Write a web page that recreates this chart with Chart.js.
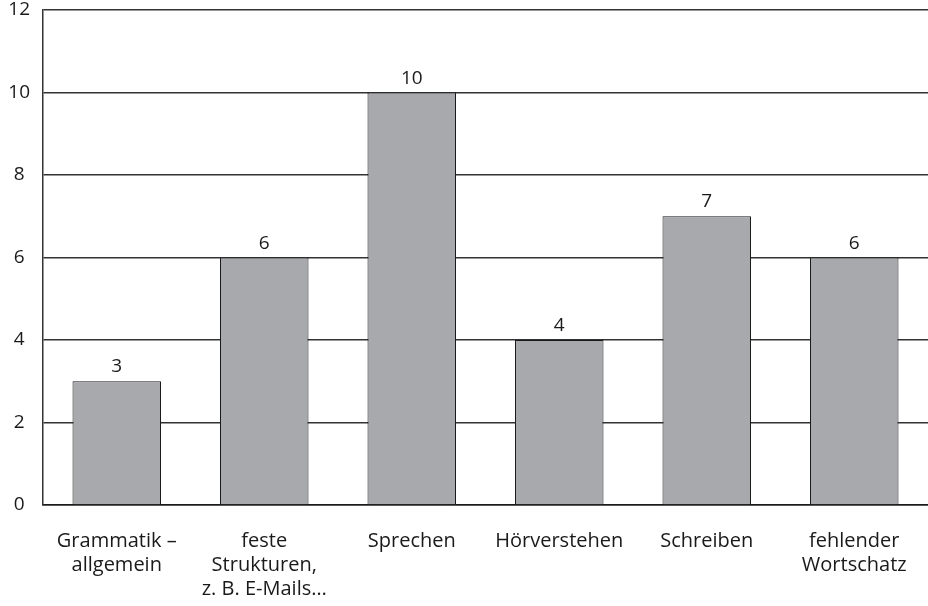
<!DOCTYPE html>
<html>
<head>
<meta charset="utf-8">
<script src="https://cdn.jsdelivr.net/npm/chart.js@4"></script>
<style>
  html, body { margin: 0; padding: 0; background: #fff; }
  #wrap { width: 928px; height: 606px; }
</style>
</head>
<body>
<div id="wrap"><canvas id="chart"></canvas></div>
<script>
const categories = [
    ['Grammatik \u2013', 'allgemein'],
    ['feste', 'Strukturen,', 'z. B. E-Mails\u2026'],
    'Sprechen',
    'H\u00f6rverstehen',
    'Schreiben',
    ['fehlender', 'Wortschatz']
];
const values = [3, 6, 10, 4, 7, 6];
const yMax = 12;
const yStep = 2;

const fontFamily = '"Open Sans", "DejaVu Sans", sans-serif';

// zahlen über den balken
const valueLabels = {
    id: 'valueLabels',
    afterDatasetsDraw(chart) {
        const ctx = chart.ctx;
        const meta = chart.getDatasetMeta(0);
        ctx.save();
        ctx.fillStyle = '#1a1a1a';
        ctx.font = '19px ' + fontFamily;
        ctx.textAlign = 'center';
        ctx.textBaseline = 'alphabetic';
        meta.data.forEach((bar, i) => {
            ctx.fillText(String(values[i]), bar.x, bar.y - 9);
        });
        ctx.restore();
    }
};

new Chart(document.getElementById('chart'), {
    type: 'bar',
    data: {
        labels: categories,
        datasets: [{
            data: values,
            backgroundColor: '#a7a9ac',
            borderColor: '#1a1a1a',
            borderWidth: 1,
            barPercentage: 0.6,
            categoryPercentage: 1
        }]
    },
    options: {
        responsive: true,
        maintainAspectRatio: false,
        animation: false,
        layout: { padding: 0 },
        plugins: {
            legend: { display: false },
            tooltip: { enabled: false }
        },
        scales: {
            x: {
                grid: { display: false, drawTicks: false },
                border: { display: true, color: '#1a1a1a', width: 1.5 },
                ticks: {
                    color: '#1a1a1a',
                    font: { family: fontFamily, size: 20, lineHeight: 1.2 },
                    padding: 24,
                    maxRotation: 0,
                    autoSkip: false
                },
                afterFit(scale) {
                    scale.height = 101;
                    scale.paddingLeft = 0;
                    scale.paddingRight = 0;
                }
            },
            y: {
                min: 0,
                max: yMax,
                grid: { color: '#333', lineWidth: 1.5, drawTicks: false },
                border: { display: true, color: '#333', width: 1.5 },
                ticks: {
                    stepSize: yStep,
                    color: '#1a1a1a',
                    font: { family: fontFamily, size: 19, lineHeight: 1 },
                    crossAlign: 'center',
                    padding: 13
                },
                afterFit(scale) {
                    scale.width = 43;
                    scale.paddingTop = 10;
                    scale.paddingBottom = 10;
                }
            }
        }
    },
    plugins: [valueLabels]
});
</script>
</body>
</html>
